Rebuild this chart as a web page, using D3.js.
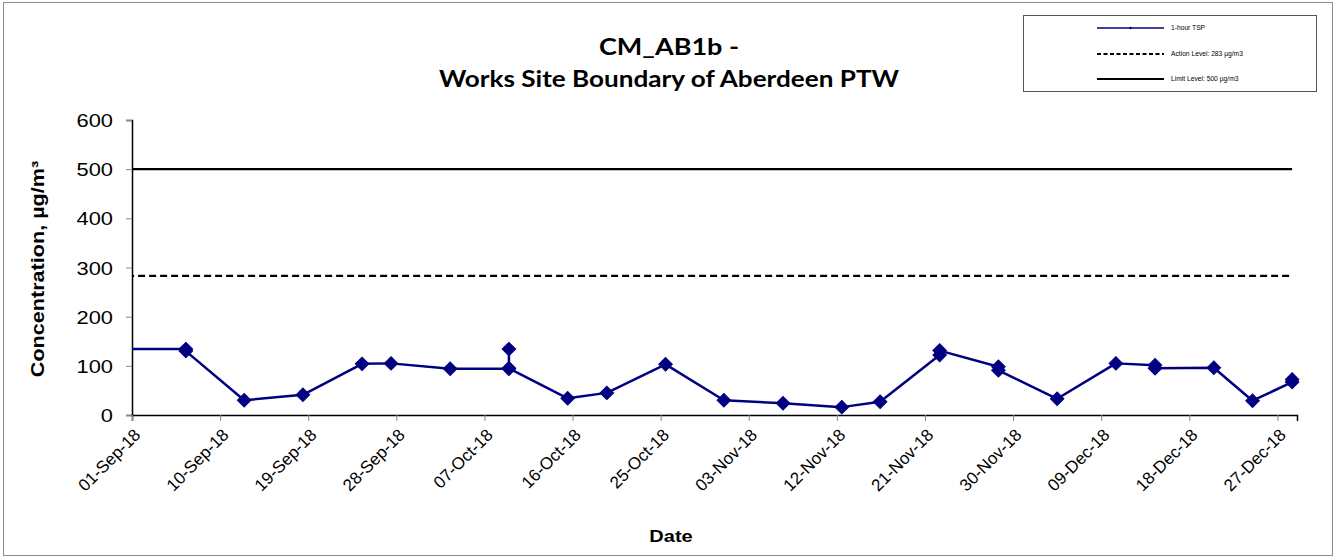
<!DOCTYPE html>
<html>
<head>
<meta charset="utf-8">
<script src="https://cdn.jsdelivr.net/npm/d3@7"></script>
<style>
  body { margin: 0; background: #fff; }
  svg { font-family: "Liberation Sans", Arial, sans-serif; }
</style>
</head>
<body>
<svg id="chart" width="1343" height="558"></svg>
<script>
// 1-hour TSP samples (date/time of sample, µg/m3)
var sampleTimes = [
  "2018-08-31 12:00", "2018-09-06 12:00", "2018-09-06 12:00", "2018-09-12 11:00",
  "2018-09-18 11:00", "2018-09-24 12:00", "2018-09-27 11:00", "2018-10-03 12:00",
  "2018-10-09 12:00", "2018-10-09 12:00", "2018-10-09 12:00", "2018-10-15 12:00",
  "2018-10-19 12:00", "2018-10-25 12:00", "2018-10-31 11:00", "2018-11-06 12:00",
  "2018-11-12 12:00", "2018-11-16 10:00", "2018-11-22 12:00", "2018-11-22 12:00",
  "2018-11-28 12:00", "2018-11-28 12:00", "2018-12-04 12:00", "2018-12-10 12:00",
  "2018-12-14 12:00", "2018-12-14 12:00", "2018-12-20 12:00", "2018-12-24 11:00",
  "2018-12-28 12:00", "2018-12-28 12:00"
];
var tspValues = [
  134, 134, 130, 30,
  41, 104, 105, 94,
  94, 134, 95, 34,
  45, 103, 30, 24,
  16, 27, 122, 131,
  98, 91, 33, 105,
  101, 95, 96, 29,
  67, 72
];

var actionLevel = 283;
var limitLevel = 500;

var xTickDates = ["2018-09-01", "2018-09-10", "2018-09-19", "2018-09-28", "2018-10-07",
  "2018-10-16", "2018-10-25", "2018-11-03", "2018-11-12", "2018-11-21", "2018-11-30",
  "2018-12-09", "2018-12-18", "2018-12-27"];
var yTicks = [0, 100, 200, 300, 400, 500, 600];
var xDomain = ["2018-09-01", "2018-12-29"];

var legendLabels = ["1-hour TSP", "Action Level: 283 \u00b5g/m3", "Limit Level: 500 \u00b5g/m3"];

var parseTime = d3.timeParse("%Y-%m-%d %H:%M");
var parseDay = d3.timeParse("%Y-%m-%d");
var fmtTick = d3.timeFormat("%d-%b-%y");

var navy = "#000080";
var stretch = 1.25; // value/axis-title fonts in the original render wide

var svg = d3.select("#chart");
var plot = { left: 132, right: 1297, top: 120, bottom: 415 };

var x = d3.scaleTime()
  .domain(xDomain.map(parseDay))
  .range([plot.left, plot.right]);
var y = d3.scaleLinear()
  .domain([0, 600])
  .range([plot.bottom, plot.top]);

var points = sampleTimes.map(function(t, i) {
  return { date: parseTime(t), value: tspValues[i] };
});

// outer frame
svg.append("rect")
  .attr("x", 3.5).attr("y", 2.5)
  .attr("width", 1329).attr("height", 553)
  .attr("fill", "#fff")
  .attr("stroke", "#8c8c8c");

svg.append("clipPath").attr("id", "plotclip")
  .append("rect")
  .attr("x", plot.left).attr("y", plot.top - 10)
  .attr("width", plot.right - plot.left + 10)
  .attr("height", plot.bottom - plot.top + 10);

// axes
var yAxis = svg.append("g")
  .attr("transform", "translate(" + plot.left + ",0)")
  .call(d3.axisLeft(y).tickValues(yTicks).tickSize(6).tickFormat(d3.format("d")));
var xAxis = svg.append("g")
  .attr("transform", "translate(0," + plot.bottom + ")")
  .call(d3.axisBottom(x).tickValues(xTickDates.map(parseDay)).tickSize(6).tickFormat(fmtTick));

[yAxis, xAxis].forEach(function(ax) {
  ax.attr("font-family", null).attr("font-size", null);
  ax.select(".domain").attr("stroke", "#000").attr("stroke-width", 1.5);
  ax.selectAll(".tick line").attr("stroke", "#888");
});

yAxis.selectAll(".tick text")
  .attr("x", null).attr("dy", null)
  .style("font-size", "17.5px")
  .attr("fill", "#000")
  .attr("text-anchor", "end")
  .attr("transform", "translate(-19,6.5) scale(" + stretch + ",1)");

xAxis.selectAll(".tick text")
  .attr("y", null).attr("dy", null)
  .style("font-size", "17px")
  .attr("fill", "#000")
  .attr("text-anchor", "end")
  .attr("transform", "translate(9,21) rotate(-45)");

// limit lines
var lastDate = d3.max(points, function(d) { return d.date; });
var firstDate = d3.min(points, function(d) { return d.date; });
var levels = svg.append("g").attr("clip-path", "url(#plotclip)");
levels.append("line")
  .attr("x1", x(firstDate)).attr("x2", x(lastDate))
  .attr("y1", y(limitLevel)).attr("y2", y(limitLevel))
  .attr("stroke", "#000").attr("stroke-width", 2.2);
levels.append("line")
  .attr("x1", x(firstDate)).attr("x2", x(lastDate))
  .attr("y1", y(actionLevel)).attr("y2", y(actionLevel))
  .attr("stroke", "#000").attr("stroke-width", 2.2)
  .attr("stroke-dasharray", "7,4");

// TSP series
var line = d3.line()
  .x(function(d) { return x(d.date); })
  .y(function(d) { return y(d.value); });

svg.append("path")
  .datum(points)
  .attr("clip-path", "url(#plotclip)")
  .attr("d", line)
  .attr("fill", "none")
  .attr("stroke", navy)
  .attr("stroke-width", 2.5)
  .attr("stroke-linejoin", "round");

var diamond = d3.symbol().type(d3.symbolSquare).size(92);
svg.append("g").selectAll("path")
  .data(points.filter(function(d) { return d.date >= x.domain()[0]; }))
  .join("path")
  .attr("d", diamond)
  .attr("transform", function(d) {
    return "translate(" + x(d.date) + "," + y(d.value) + ") rotate(45)";
  })
  .attr("fill", navy)
  .attr("stroke", navy)
  .attr("stroke-width", 1);

// axis titles
svg.append("text")
  .attr("transform", "translate(44,269) rotate(-90) scale(1.2,1)")
  .attr("text-anchor", "middle")
  .style("font-size", "18px")
  .attr("font-weight", "bold")
  .text("Concentration, \u00b5g/m\u00b3");

svg.append("text")
  .attr("transform", "translate(671,542) scale(" + stretch + ",1)")
  .attr("text-anchor", "middle")
  .style("font-size", "16px")
  .attr("font-weight", "bold")
  .text("Date");

// title
var titleLines = ["CM_AB1b -", "Works Site Boundary of Aberdeen PTW"];
var titleWidths = [140, 460];
var titleY = [55, 87];
titleLines.forEach(function(t, i) {
  svg.append("text")
    .attr("x", 669).attr("y", titleY[i])
    .attr("text-anchor", "middle")
    .style("font-family", "Lato, 'Open Sans', sans-serif")
    .attr("font-weight", "bold")
    .style("font-size", "23px")
    .attr("textLength", titleWidths[i])
    .attr("lengthAdjust", "spacingAndGlyphs")
    .text(t);
});

// legend
var legend = svg.append("g");
legend.append("rect")
  .attr("x", 1023.5).attr("y", 15.5)
  .attr("width", 293).attr("height", 76)
  .attr("fill", "#fff")
  .attr("stroke", "#555");
var legendY = [28, 54, 79];
legendLabels.forEach(function(lab, i) {
  var ln = legend.append("line")
    .attr("x1", 1097).attr("x2", 1164)
    .attr("y1", legendY[i]).attr("y2", legendY[i])
    .attr("stroke", i === 0 ? navy : "#000")
    .attr("stroke-width", i === 0 ? 1.6 : 2);
  if (i === 1) ln.attr("stroke-dasharray", "4,2.5");
  if (i === 0) {
    legend.append("path")
      .attr("d", d3.symbol().type(d3.symbolSquare).size(5))
      .attr("transform", "translate(1130.5," + legendY[i] + ") rotate(45)")
      .attr("fill", navy);
  }
  legend.append("text")
    .attr("x", 1171).attr("y", legendY[i] + 2.3)
    .style("font-size", "6.7px")
    .text(lab);
});
</script>
</body>
</html>
